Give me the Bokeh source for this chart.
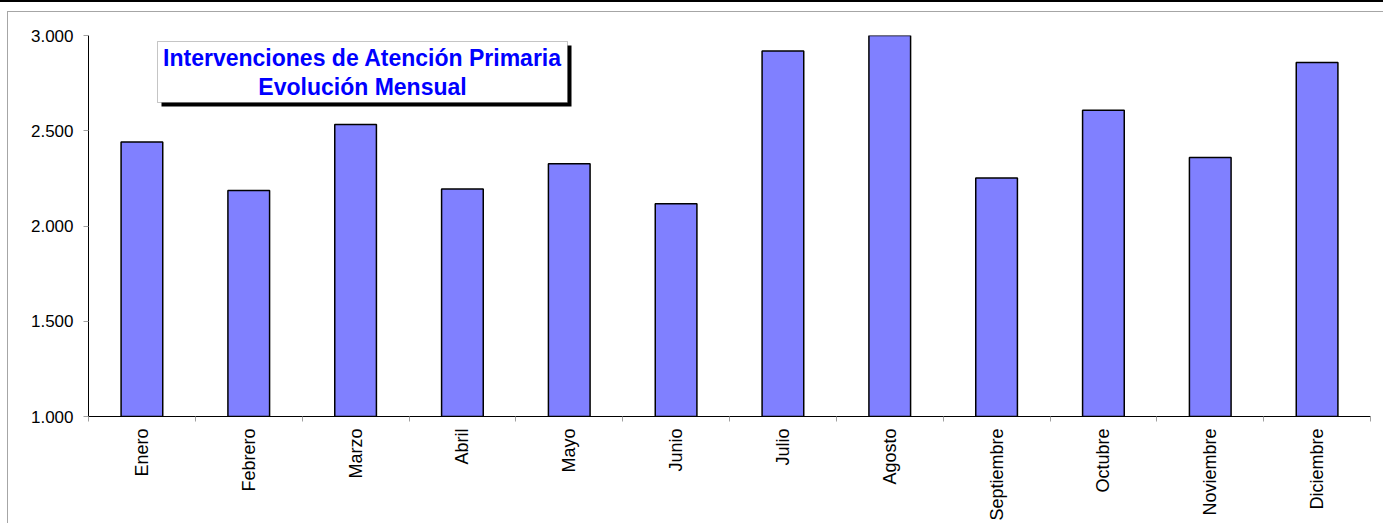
import math
from bokeh.plotting import figure
from bokeh.models import Range1d, FixedTicker, BoxAnnotation, Label, ColumnDataSource, Column
from bokeh.embed import file_html
from bokeh.resources import INLINE

# ---- data ----
meses = ["Enero", "Febrero", "Marzo", "Abril", "Mayo", "Junio", "Julio",
         "Agosto", "Septiembre", "Octubre", "Noviembre", "Diciembre"]
valores = [2441, 2186, 2533, 2194, 2327, 2117, 2918, 3050, 2252, 2608, 2359, 2858]
y_ticks = [1000, 1500, 2000, 2500, 3000]
y_labels = ["1.000", "1.500", "2.000", "2.500", "3.000"]
titulo = "Intervenciones de Atención Primaria\nEvolución Mensual"

FONT = "Liberation Sans"
W, H = 1376, 512
ML, MT = 80, 23
FW, FH = 1282, 381
Y0, Y1 = 1000, 3000

p = figure(width=W, height=H, x_range=Range1d(-0.5, len(meses) - 0.5),
           y_range=Range1d(Y0, Y1), output_backend="svg", toolbar_location=None,
           min_border_left=ML, min_border_right=W - ML - FW,
           min_border_top=MT, min_border_bottom=H - MT - FH)
p.margin = (0, 0, 0, 7)
p.styles = {"border-top": "1px solid #a6a6a6", "border-left": "1px solid #a6a6a6"}
p.xgrid.visible = False
p.ygrid.visible = False
p.outline_line_color = None
p.background_fill_color = "white"
p.border_fill_color = "white"

src = ColumnDataSource(dict(x=list(range(len(meses))), top=valores))
p.vbar(x="x", top="top", bottom=Y0, width=0.39, source=src,
       fill_color="#8080FF", line_color="black", line_width=1.5)

# x axis
xa = p.xaxis[0]
xa.ticker = FixedTicker(ticks=list(range(len(meses))),
                        minor_ticks=[i - 0.5 for i in range(len(meses) + 1)])
xa.major_label_overrides = {i: m for i, m in enumerate(meses)}
xa.major_label_orientation = math.pi / 2
xa.major_tick_line_color = None
xa.major_tick_out = 0
xa.major_tick_in = 0
xa.minor_tick_out = 5
xa.minor_tick_in = 0
xa.minor_tick_line_color = "#a0a0a0"
xa.axis_line_color = "black"
xa.axis_line_width = 1
xa.major_label_standoff = 7
xa.major_label_text_font = FONT
xa.major_label_text_font_size = "18px"
xa.major_label_text_color = "black"

# y axis
ya = p.yaxis[0]
ya.ticker = FixedTicker(ticks=y_ticks)
ya.major_label_overrides = {t: l for t, l in zip(y_ticks, y_labels)}
ya.major_tick_out = 5
ya.major_tick_in = 0
ya.major_tick_line_color = "#a0a0a0"
ya.minor_tick_line_color = None
ya.axis_line_color = "black"
ya.axis_line_width = 1
ya.major_label_standoff = 10
ya.major_label_text_font = FONT
ya.major_label_text_font_size = "17px"
ya.major_label_text_color = "black"

# helpers: picture pixel -> data coordinates (for the title box annotation)
PX0, PY0 = 88, 35
def dx(px):
    return -0.5 + (px - PX0) / FW * len(meses)
def dy(py):
    return Y1 - (py - PY0) / FH * (Y1 - Y0)

shadow = BoxAnnotation(left=dx(161), right=dx(571), top=dy(45), bottom=dy(106),
                       fill_color="black", fill_alpha=1.0, line_color=None)
box = BoxAnnotation(left=dx(157), right=dx(567), top=dy(41), bottom=dy(102),
                    fill_color="white", fill_alpha=1.0, line_color="#404040", line_width=1)
p.add_layout(shadow)
p.add_layout(box)
lab = Label(x=dx(362), y=dy(72), text=titulo, text_align="center", text_baseline="middle",
            text_font=FONT, text_font_style="bold", text_font_size="23px",
            text_color="#0000FF", text_line_height=1.1)
p.add_layout(lab)

outer = Column(p, styles={"border-top": "2px solid black", "padding-top": "9px"})

with open("out.html", "w", encoding="utf-8") as f:
    f.write(file_html(outer, INLINE, "chart"))
